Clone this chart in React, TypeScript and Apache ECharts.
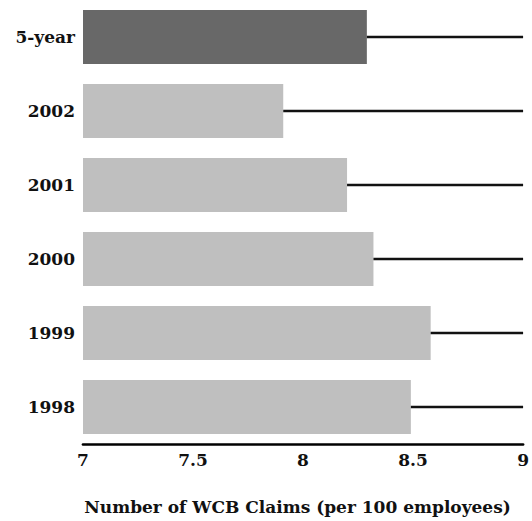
import React, { useEffect, useRef } from "react";
import * as echarts from "echarts";

const categories = ["1998", "1999", "2000", "2001", "2002", "5-year"];
const claims = [8.49, 8.58, 8.32, 8.2, 7.91, 8.29];
const xTicks = [7, 7.5, 8, 8.5, 9];
const axisTitle = "Number of WCB Claims (per 100 employees)";

const FONT = "'DejaVu Serif', serif";

export default function App() {
  const ref = useRef<HTMLDivElement>(null);
  useEffect(() => {
    if (!ref.current) return;
    const chart = echarts.init(ref.current, null, { renderer: "svg" });
    const xMin = xTicks[0];
    const xMax = xTicks[xTicks.length - 1];
    chart.setOption({
      animation: false,
      grid: { left: 83, right: 4, top: 0, bottom: 77, containLabel: false },
      xAxis: {
        type: "value",
        min: xMin,
        max: xMax,
        interval: 0.5,
        name: axisTitle,
        nameLocation: "middle",
        nameGap: 54,
        nameTextStyle: {
          fontFamily: FONT,
          fontWeight: "bold",
          fontSize: 17,
          color: "#111",
          padding: [0, 11, 0, 0],
        },
        axisLine: { show: true, lineStyle: { color: "#000", width: 2.7 } },
        axisTick: { show: false },
        splitLine: { show: false },
        axisLabel: {
          fontFamily: FONT,
          fontWeight: "bold",
          fontSize: 17,
          color: "#111",
          margin: 7,
          formatter: (v: number) => String(v),
        },
      },
      yAxis: {
        type: "category",
        data: categories,
        axisLine: { show: false },
        axisTick: { show: false },
        splitLine: { show: false },
        axisLabel: {
          fontFamily: FONT,
          fontWeight: "bold",
          fontSize: 17,
          color: "#111",
          margin: 8,
        },
      },
      series: [
        {
          type: "bar",
          barWidth: 54,
          data: claims.map((v, i) => ({
            value: v,
            itemStyle: { color: categories[i] === "5-year" ? "#686868" : "#bfbfbf" },
          })),
          silent: true,
        },
        {
          type: "custom",
          silent: true,
          data: claims.map((v, i) => [v, i]),
          encode: { x: 0, y: 1 },
          renderItem: (params: any, api: any) => {
            const start = api.coord([api.value(0), api.value(1)]);
            const end = api.coord([xMax, api.value(1)]);
            return {
              type: "line",
              shape: { x1: start[0], y1: start[1], x2: end[0], y2: end[1] },
              style: { stroke: "#111", lineWidth: 2.7 },
            };
          },
          z: 3,
        },
      ],
    });
    return () => chart.dispose();
  }, []);
  return (
    <div
      ref={ref}
      style={{ position: "absolute", left: 0, top: 0, width: 532, height: 521 }}
    />
  );
}
